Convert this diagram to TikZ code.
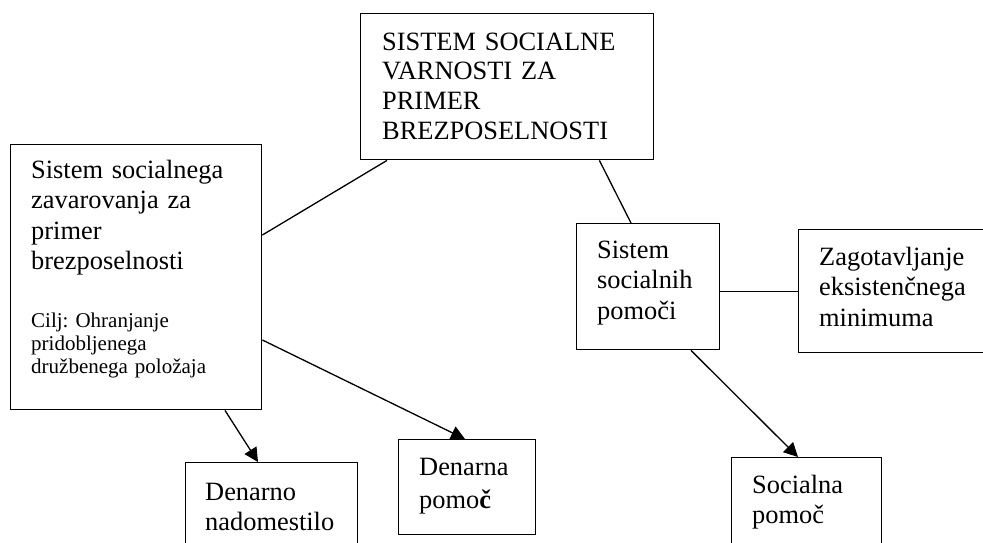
\documentclass[tikz,border=0pt]{standalone}
\usepackage{fontspec}
\setmainfont{Liberation Serif}
\usetikzlibrary{arrows.meta}
\frenchspacing

\begin{document}
\begin{tikzpicture}[
    x=1pt, y=-1pt,
    % --- Styles ---
    % plain framed box, placed by its top left corner
    box node/.style={draw, line width=1.4pt, anchor=north west, inner sep=0pt},
    % text set from the baseline of its first line
    text node/.style={anchor=base west, inner sep=0pt, align=left, text width=#1,
        font=\fontsize{26.4}{30.5}\selectfont},
    text node/.default=240pt,
    goal node/.style={anchor=base west, inner sep=0pt, align=left, text width=220pt,
        font=\fontsize{21}{23.2}\selectfont},
    link line/.style={line width=1.3pt},
    arrow line/.style={line width=1.3pt, -{Triangle[length=14pt, width=14pt]}}
]

%================CONFIGURATION================
\useasboundingbox (0,0) rectangle (983,542);
\clip (0,0) rectangle (983,542);
%=============================================

% --- 1. Boxes ---
\node[box node, minimum width=293pt, minimum height=146pt] (top)    at (360,13)  {};
\node[box node, minimum width=251pt, minimum height=265pt] (insure) at (10,144)  {};
\node[box node, minimum width=143pt, minimum height=126pt] (help)   at (576,223) {};
\node[box node, minimum width=200pt, minimum height=123pt] (minim)  at (798,229) {};
\node[box node, minimum width=150pt, minimum height=110pt] (social) at (731,457) {};
\node[box node, minimum width=172pt, minimum height=110pt] (nadom)  at (185,462) {};
\node[box node, minimum width=137pt, minimum height=95pt]  (pomoc)  at (398,439) {};

% --- 2. Texts ---
\node[text node, font=\fontsize{26.4}{29.7}\selectfont] (topT) at (382,50)
    {SISTEM SOCIALNE\\VARNOSTI ZA\\PRIMER\\BREZPOSELNOSTI};
\node[text node] (insureT) at (31,178)
    {Sistem socialnega\\zavarovanja za\\primer\\brezposelnosti};
\node[goal node] (goalT) at (31,327)
    {Cilj: Ohranjanje\\pridobljenega\\družbenega položaja};
\node[text node=120pt] (helpT) at (597,258) {Sistem\\socialnih\\pomoči};
\node[text node=170pt] (minimT) at (819,265)
    {Zagotavljanje\\eksistenčnega\\minimuma};
\node[text node=130pt] (socialT) at (752,493) {Socialna\\pomoč};
\node[text node=160pt] (nadomT) at (205,500) {Denarno\\nadomestilo};
\node[text node=120pt, font=\fontsize{26.4}{33}\selectfont] (pomocT) at (419,475)
    {Denarna\\pomo\textbf{č}};

% --- 3. Connectors ---
\draw[link line] ([xshift=27pt]top.south west) -- ([yshift=-91pt]insure.north east);
\draw[link line] ([xshift=-55pt]top.south east) -- ([xshift=55pt]help.north west);
\draw[link line] (minim.west -| help.east) -- (minim.west);

\draw[arrow line] ([xshift=115pt]help.south west) -- ([xshift=67pt]social.north west);
\draw[arrow line] ([xshift=215pt]insure.south west) -- ([xshift=73pt]nadom.north west);
\draw[arrow line] ([yshift=-196pt]insure.north east) -- ([xshift=67pt]pomoc.north west);

\end{tikzpicture}
\end{document}
